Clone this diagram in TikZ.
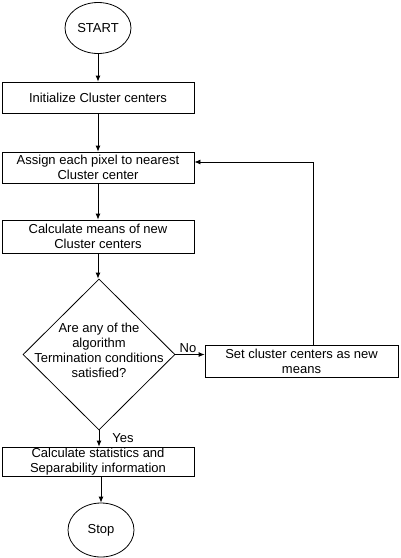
\documentclass[tikz,border=0pt]{standalone}
\usepackage{fontspec}
\setmainfont{Liberation Sans}
\usetikzlibrary{shapes.geometric,arrows.meta,calc}
\begin{document}
\begin{tikzpicture}[x=1pt,y=-1pt,
  box/.style={draw, line width=0.8pt, rectangle, minimum width=192pt, inner sep=0pt, align=center, font=\fontsize{13}{15}\selectfont},
  oval/.style={draw, line width=0.8pt, ellipse, inner sep=0pt, font=\fontsize{13}{15}\selectfont},
  conn/.style={draw, line width=0.8pt, -{Latex[length=6pt,width=5pt]}},
  lbl/.style={font=\fontsize{13}{15}\selectfont, inner sep=0pt}]
\useasboundingbox (0,0) rectangle (400,558);
\node[oval, minimum width=66pt, minimum height=51pt] (start) at (98,28) {START};
\node[box, minimum height=31pt] (init) at (98,97.5) {Initialize Cluster centers};
\node[box, minimum height=31pt] (assign) at (98,167.5) {Assign each pixel to nearest\\Cluster center};
\node[box, minimum height=33pt] (calc) at (98,236.5) {Calculate means of new\\Cluster centers};
\node[draw, line width=0.8pt, diamond, minimum width=152pt, minimum height=151pt, inner sep=0pt] (dec) at (99,354.5) {};
\node[lbl, align=center, font=\fontsize{13}{15}\selectfont] (dectext) at (99,350) {Are any of the\\algorithm\\Termination conditions\\satisfied?};
\node[box, minimum width=193pt, minimum height=32pt] (set) at (301.5,361) {Set cluster centers as new\\means};
\node[box, minimum height=29pt] (stats) at (98,461.5) {Calculate statistics and\\Separability information};
\node[oval, minimum width=66pt, minimum height=54pt] (stop) at (101,530) {Stop};
\coordinate (fb) at (313,162);
\draw[conn] (start.south) -- (start.south |- init.north);
\draw[conn] (init.south) -- (assign.north);
\draw[conn] (assign.south) -- (calc.north);
\draw[conn] (calc.south) -- (calc.south |- dec.north);
\draw[conn] (dec.east) -- (dec.east -| set.west);
\draw[line width=0.8pt] (set.north -| fb) -- (fb);
\draw[conn] (fb) -- (fb -| assign.east);
\draw[conn] (dec.south) -- (dec.south |- stats.north);
\draw[conn] (stop.north |- stats.south) -- (stop.north);
\node[lbl] (no) at (188,348) {No};
\node[lbl] (yes) at (123,438) {Yes};
\end{tikzpicture}
\end{document}
